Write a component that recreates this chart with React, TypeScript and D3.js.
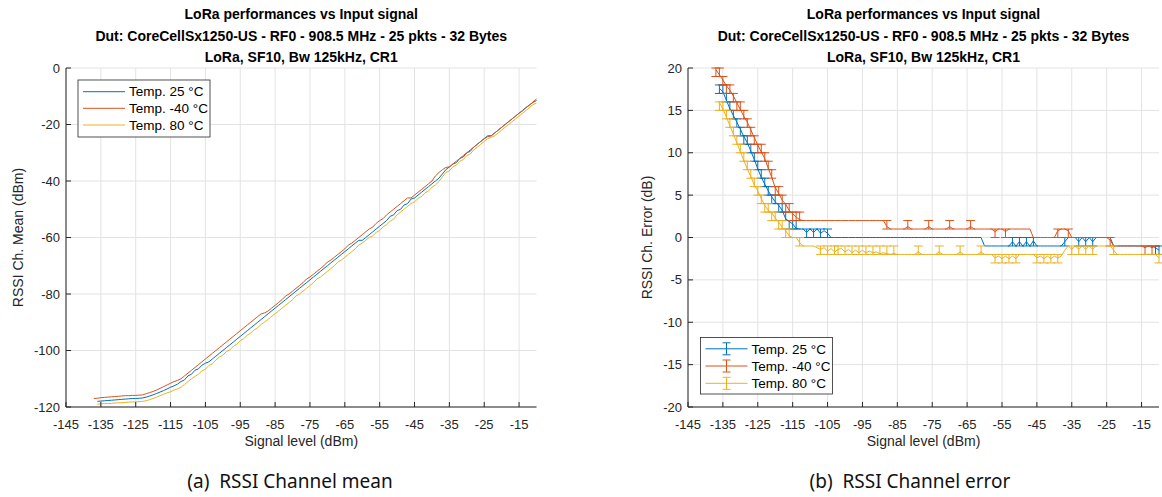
import React from 'react';
import * as d3 from 'd3';

// ---------------- DATA ----------------
const signal = [
  -137, -136, -135, -134, -133, -132, -131, -130, -129, -128, -127, -126, -125, -124, -123, -122, -121, -120, -119, -118,
  -117, -116, -115, -114, -113, -112, -111, -110, -109, -108, -107, -106, -105, -104, -103, -102, -101, -100, -99, -98,
  -97, -96, -95, -94, -93, -92, -91, -90, -89, -88, -87, -86, -85, -84, -83, -82, -81, -80, -79, -78,
  -77, -76, -75, -74, -73, -72, -71, -70, -69, -68, -67, -66, -65, -64, -63, -62, -61, -60, -59, -58,
  -57, -56, -55, -54, -53, -52, -51, -50, -49, -48, -47, -46, -45, -44, -43, -42, -41, -40, -39, -38,
  -37, -36, -35, -34, -33, -32, -31, -30, -29, -28, -27, -26, -25, -24, -23, -22, -21, -20, -19, -18,
  -17, -16, -15, -14, -13, -12, -11, -10,
];

// RSSI channel mean (dBm)
const mean25 = [
  null,
  -118.0, -117.9, -117.8, -117.7, -117.6, -117.5, -117.4, -117.3, -117.2, -117.1, -117.0, -117.0, -116.9, -116.8, -116.5, -116.1,
  -115.7, -115.2, -114.7, -114.2, -113.6, -113.0, -112.5, -111.9, -111.0, -110.4, -109.0, -108.4, -107.0, -106.5, -105.2, -104.5,
  -104, -103, -102, -101, -100, -99, -98, -97, -96, -95, -94, -93, -92, -91, -90, -89, -88, -87, -86, -85, -84, -83,
  -82, -81, -80, -79, -78, -77, -76, -75, -74, -73, -72, -71, -70, -69, -68, -67, -66, -65, -64, -63, -62, -61,
  -61, -60, -59, -58, -57, -56, -55, -54,
  -52.5, -52, -50.5, -50, -48.5, -48, -46.4,
  -46, -45, -44, -43, -42, -41, -40, -39,
  -37.5,
  -36, -35, -34,
  -33.5, -32, -31.5, -30, -29.5,
  -28, -27, -26, -25, -24,
  -24, -23, -22, -21, -20, -19, -18, -17, -16, -15, -14, -13,
  -12.2, -11.5,
];

const mean40 = [
  -117.0, -116.9, -116.7, -116.6, -116.5, -116.4, -116.3, -116.2, -116.1, -116.0, -116.0, -115.9, -115.9, -115.8, -115.7, -115.3,
  -114.9, -114.5, -114.0, -113.4, -112.8, -112.2, -111.6, -111.0, -110.6,
  -110, -109, -108, -107, -106, -105, -104, -103, -102, -101, -100, -99, -98, -97, -96, -95, -94, -93, -92, -91, -90, -89, -88, -87,
  -86.7, -86, -85, -84, -83, -82, -80.7, -80, -79, -78, -77, -76, -74.7, -74, -73, -72, -71, -70, -68.7, -68, -67, -66, -65, -64, -62.7,
  -62, -61, -60, -59, -58, -57,
  -56.3, -55, -54, -53.3,
  -52, -51, -50, -49, -48, -47, -46,
  -46, -45, -44, -43, -42, -41, -40,
  -38.2, -37, -36, -35.2,
  -35, -34, -33, -32, -31, -30, -29, -28, -27, -26, -25,
  -24.3,
  -24, -23, -22, -21, -20, -19, -18, -17, -16,
  -15.2, -14, -13.2, -12, -11,
];

const mean80 = [
  null,
  -119.0, -118.9, -118.8, -118.8, -118.7, -118.6, -118.5, -118.5, -118.4, -118.3, -118.2, -118.2, -118.1, -118.0, -117.8, -117.4,
  -117.0, -116.5, -116.0, -115.5, -115.0, -114.6, -114.0, -113.6, -113.0, -112.0, -111.0, -110.0,
  -109.2, -108.4, -107.2, -106.6, -105.3, -104.7, -103.4, -102.3, -101.7, -100.4, -99.8, -98.5, -97.8, -96.5, -95.8, -94.6,
  -93.8, -92.7, -91.9, -90.8, -89.9, -89.0, -87.9,
  -87, -86, -85, -84, -83, -82,
  -80.7, -80, -79, -78, -77, -76, -74.7, -74, -73, -72, -71, -70, -68.7, -68, -67, -66, -65, -64, -62.7,
  -62, -61, -60,
  -59.4, -58.2, -57.5, -56.2, -55.5, -54.2, -53.5,
  -52, -51, -50, -49, -48,
  -47.4, -46.2, -45.5, -44.2, -43.5, -42.2, -41.4, -40.2,
  -38.5, -37, -36.4, -35, -34.4, -33, -32.4, -31, -30.4,
  -29, -28, -27, -26, -25,
  -24.5,
  -24, -23, -22, -21, -20, -19, -18, -17, -16, -15, -14, -13,
  -12.4,
];

// RSSI channel error (dB) - mean
const err25 = [
  null,
  17.6, 17.2, 16.2, 15.2, 14.4, 13.6, 12.8, 11.9, 11.2, 10.2, 9.2, 8.1, 7.1, 6.3, 5.5, 4.8, 4.2, 3.8, 3.2, 2.2, 1.9, 1.6, 1.1,
  1, 1, 0.6, 1, 0.6, 1, 0.5, 0.8, 0.5,
  0, 0, 0, 0, 0, 0, 0, 0, 0, 0, 0, 0, 0, 0, 0, 0, 0, 0, 0, 0, 0, 0,
  0, 0, 0, 0, 0, 0, 0, 0, 0, 0, 0, 0, 0, 0, 0, 0, 0, 0, 0, 0, 0, 0,
  -1, -1, -1, -1, -1, -1, -1, -1,
  -0.5, -1, -0.5, -1, -0.5, -1, -0.4,
  -1, -1, -1, -1, -1, -1, -1, -1,
  -0.5,
  0, 0, 0,
  -0.5, 0, -0.5, 0, -0.5,
  0, 0, 0, 0, 0,
  -1, -1, -1, -1, -1, -1, -1, -1, -1, -1, -1, -1,
  -1.2, -1.5,
];

const err40 = [
  19.8, 19.2, 18.6, 17.9, 17.4, 16.7, 15.9, 15.1, 14.3, 13.6, 12.7, 11.8, 10.9, 10.1, 9.3, 8.2, 7.1, 5.9, 5.2, 4.4, 3.9, 3.2,
  2.8, 2.4, 2.1,
  2, 2, 2, 2, 2, 2, 2, 2, 2, 2, 2, 2, 2, 2, 2, 2, 2, 2, 2, 2, 2, 2, 2, 2,
  1.3, 1, 1, 1, 1, 1, 1.3, 1, 1, 1, 1, 1, 1.3, 1, 1, 1, 1, 1, 1.3, 1, 1, 1, 1, 1, 1.3,
  1, 1, 1, 1, 1, 1,
  0.7, 1, 1, 0.7,
  1, 1, 1, 1, 1, 1, 1,
  0, 0, 0, 0, 0, 0, 0,
  0.8, 1, 1, 0.8,
  0, 0, 0, 0, 0, 0, 0, 0, 0, 0, 0,
  -0.3,
  -1, -1, -1, -1, -1, -1, -1, -1, -1,
  -1.2, -1, -1.2, -1, -1,
];

const err80 = [
  null,
  15.9, 15.2, 14.2, 13.2, 12.2, 11.2, 10.1, 9.1, 8.1, 7.2, 6.2, 5.5, 4.6, 3.8, 3.2, 2.9, 2.3, 1.8, 1.2, 0.8, 0.2, 0, 0, -0.6,
  -1, -1, -1, -1,
  -1.2, -1.4, -1.2, -1.6, -1.3, -1.7, -1.4, -1.3, -1.7, -1.4, -1.8, -1.5, -1.8, -1.5, -1.8, -1.6, -1.8, -1.7, -1.9, -1.8,
  -1.9, -2, -1.9,
  -2, -2, -2, -2, -2, -2,
  -1.7, -2, -2, -2, -2, -2, -1.7, -2, -2, -2, -2, -2, -1.7, -2, -2, -2, -2, -2, -1.7,
  -2, -2, -2,
  -2.4, -2.2, -2.5, -2.2, -2.5, -2.2, -2.5,
  -2, -2, -2, -2, -2,
  -2.4, -2.2, -2.5, -2.2, -2.5, -2.2, -2.4, -2.2,
  -1.5, -1, -1.4, -1, -1.4, -1, -1.4, -1, -1.4,
  -1, -1, -1, -1, -1,
  -1.5,
  -2, -2, -2, -2, -2, -2, -2, -2, -2, -2, -2, -2,
  -2.4,
];

// error bars: [signal, min, max]
const bars25 = [
  [-136, 17, 18], [-135, 17, 18], [-134, 16, 17], [-133, 15, 16], [-132, 14, 15], [-131, 13, 14], [-130, 12, 13],
  [-129, 11, 12], [-128, 11, 12], [-127, 10, 11], [-126, 9, 10], [-125, 8, 9], [-124, 7, 8], [-123, 6, 7], [-122, 5, 6],
  [-121, 4, 5], [-120, 4, 5], [-119, 3, 4], [-118, 3, 4], [-117, 2, 3], [-116, 1, 2], [-115, 1, 2], [-114, 1, 2],
  [-111, 0, 1], [-109, 0, 1], [-107, 0, 1], [-105, 0, 1], [-52, -1, 0], [-50, -1, 0], [-48, -1, 0], [-46, -1, 0],
  [-37, -1, 0], [-33, -1, 0], [-31, -1, 0], [-29, -1, 0], [-11, -2, -1], [-10, -2, -1],
];

const bars40 = [
  [-137, 19, 20], [-136, 19, 20], [-135, 18, 19], [-134, 17, 18], [-133, 17, 18], [-132, 16, 17], [-131, 15, 16],
  [-130, 15, 16], [-129, 14, 15], [-128, 13, 14], [-127, 12, 13], [-126, 11, 12], [-125, 10, 11], [-124, 10, 11],
  [-123, 9, 10], [-122, 8, 9], [-121, 7, 8], [-120, 5, 6], [-119, 5, 6], [-118, 4, 5], [-117, 3, 4], [-116, 3, 4],
  [-115, 2, 3], [-114, 2, 3], [-113, 2, 3],
  [-88, 1, 2], [-82, 1, 2], [-76, 1, 2], [-70, 1, 2], [-64, 1, 2], [-57, 0, 1], [-54, 0, 1], [-39, 0, 1], [-36, 0, 1],
  [-24, -1, 0], [-14, -2, -1], [-12, -2, -1],
];

const bars80 = [
  [-136, 15, 16], [-135, 15, 16], [-134, 14, 15], [-133, 13, 14], [-132, 12, 13], [-131, 11, 12], [-130, 10, 11],
  [-129, 9, 10], [-128, 8, 9], [-127, 7, 8], [-126, 6, 7], [-125, 5, 6], [-124, 4, 5], [-123, 3, 4], [-122, 3, 4],
  [-121, 2, 3], [-120, 2, 3], [-119, 1, 2], [-118, 1, 2], [-117, 0, 1], [-116, 0, 1], [-113, -1, 0],
  [-107, -2, -1], [-105, -2, -1], [-103, -2, -1], [-102, -2, -1], [-100, -2, -1], [-98, -2, -1], [-96, -2, -1],
  [-94, -2, -1], [-92, -2, -1], [-90, -2, -1], [-88, -2, -1], [-86, -2, -1], [-79, -2, -1], [-73, -2, -1],
  [-67, -2, -1], [-61, -2, -1], [-57, -3, -2], [-55, -3, -2], [-53, -3, -2], [-51, -3, -2], [-45, -3, -2],
  [-43, -3, -2], [-41, -3, -2], [-39, -3, -2], [-35, -2, -1], [-33, -2, -1], [-31, -2, -1], [-29, -2, -1],
  [-23, -2, -1], [-10, -3, -2],
];

const xTicks = [-145, -135, -125, -115, -105, -95, -85, -75, -65, -55, -45, -35, -25, -15];
const yTicksMean = [-120, -100, -80, -60, -40, -20, 0];
const yTicksErr = [-20, -15, -10, -5, 0, 5, 10, 15, 20];
const xDomain = [-145, -10];
const meanDomain = [-120, 0];
const errDomain = [-20, 20];

const titleLines = [
  'LoRa performances vs Input signal',
  'Dut: CoreCellSx1250-US - RF0 - 908.5 MHz - 25 pkts - 32 Bytes',
  'LoRa, SF10, Bw 125kHz, CR1',
];
const legendLabels = ['Temp. 25 °C', 'Temp. -40 °C', 'Temp. 80 °C'];
const seriesColors = ['#0072BD', '#D95319', '#EDB120'];
const xLabel = 'Signal level (dBm)';
const yLabelMean = 'RSSI Ch. Mean (dBm)';
const yLabelErr = 'RSSI Ch. Error (dB)';
const captions = ['(a)\u00A0\u00A0RSSI Channel mean', '(b)\u00A0\u00A0RSSI Channel error'];

// ---------------- DRAWING ----------------
const FONT = '"Liberation Sans", Arial, Helvetica, sans-serif';
const AXIS = '#262626';
const GRID = '#e3e3e3';
const TOP = 68;
const BOTTOM = 407;

type PanelProps = {
  left: number;
  right: number;
  yDomain: number[];
  yTicks: number[];
  yLabel: string;
  yLabelX: number;
  series: (number | null)[][];
  bars?: number[][][];
  legend: { x: number; y: number; w: number; h: number; rows: number[]; withBars: boolean };
};

function Panel({ left, right, yDomain, yTicks, yLabel, yLabelX, series, bars, legend }: PanelProps) {
  const x = d3.scaleLinear().domain(xDomain).range([left, right]);
  const y = d3.scaleLinear().domain(yDomain).range([BOTTOM, TOP]);
  const cx = (left + right) / 2;
  const line = d3
    .line<number>()
    .defined((d) => d !== null && d !== undefined)
    .x((_, i) => x(signal[i]))
    .y((d) => y(d as number));
  const cap = 4.5;
  return (
    <g>
      {/* grid */}
      {xTicks.map((t) => (
        <line key={'gx' + t} x1={x(t)} x2={x(t)} y1={TOP} y2={BOTTOM} stroke={GRID} strokeWidth={1} />
      ))}
      {yTicks.map((t) => (
        <line key={'gy' + t} x1={left} x2={right} y1={y(t)} y2={y(t)} stroke={GRID} strokeWidth={1} />
      ))}
      {/* series */}
      {series.map((s, si) => (
        <g key={'s' + si}>
          <path d={line(s as number[]) || ''} fill="none" stroke={seriesColors[si]} strokeWidth={1} />
          {bars &&
            bars[si].map(([sx, lo, hi], bi) => (
              <g key={bi} stroke={seriesColors[si]} strokeWidth={1}>
                <line x1={x(sx)} x2={x(sx)} y1={y(lo)} y2={y(hi)} />
                <line x1={x(sx) - cap} x2={x(sx) + cap} y1={y(lo)} y2={y(lo)} />
                <line x1={x(sx) - cap} x2={x(sx) + cap} y1={y(hi)} y2={y(hi)} />
              </g>
            ))}
        </g>
      ))}
      {/* axes */}
      <line x1={left} x2={right} y1={BOTTOM} y2={BOTTOM} stroke={AXIS} strokeWidth={1} />
      <line x1={left} x2={left} y1={TOP} y2={BOTTOM} stroke={AXIS} strokeWidth={1} />
      {xTicks.map((t) => (
        <g key={'tx' + t}>
          <line x1={x(t)} x2={x(t)} y1={BOTTOM} y2={BOTTOM - 5} stroke={AXIS} />
          <text x={x(t)} y={429} textAnchor="middle" fontSize={13} fill={AXIS} fontFamily={FONT}>
            {t}
          </text>
        </g>
      ))}
      {yTicks.map((t) => (
        <g key={'ty' + t}>
          <line x1={left} x2={left + 5} y1={y(t)} y2={y(t)} stroke={AXIS} />
          <text x={left - 6} y={y(t) + 4.5} textAnchor="end" fontSize={13} fill={AXIS} fontFamily={FONT}>
            {t}
          </text>
        </g>
      ))}
      {/* labels */}
      <text x={cx} y={446} textAnchor="middle" fontSize={14} fill={AXIS} fontFamily={FONT}>
        {xLabel}
      </text>
      <text
        transform={`translate(${yLabelX},${(TOP + BOTTOM) / 2}) rotate(-90)`}
        textAnchor="middle"
        fontSize={14}
        fill={AXIS}
        fontFamily={FONT}
      >
        {yLabel}
      </text>
      {titleLines.map((t, i) => (
        <text key={'tt' + i} x={cx} y={19 + i * 21.5} textAnchor="middle" fontSize={14} fontWeight="bold" fill="#000" fontFamily={FONT}>
          {t}
        </text>
      ))}
      {/* legend */}
      <rect x={legend.x} y={legend.y} width={legend.w} height={legend.h} fill="#fff" stroke={AXIS} strokeWidth={0.8} />
      {legendLabels.map((lab, i) => {
        const ry = legend.rows[i];
        const lx0 = legend.x + 5;
        const lx1 = legend.x + 47;
        const mid = (lx0 + lx1) / 2;
        return (
          <g key={'lg' + i}>
            <line x1={lx0} x2={lx1} y1={ry} y2={ry} stroke={seriesColors[i]} strokeWidth={1} />
            {legend.withBars && (
              <g stroke={seriesColors[i]} strokeWidth={1}>
                <line x1={mid} x2={mid} y1={ry - 6} y2={ry + 6} />
                <line x1={mid - 4} x2={mid + 4} y1={ry - 6} y2={ry - 6} />
                <line x1={mid - 4} x2={mid + 4} y1={ry + 6} y2={ry + 6} />
              </g>
            )}
            <text x={lx1 + 4} y={ry + 4.7} fontSize={13.5} fill="#000" fontFamily={FONT}>
              {lab}
            </text>
          </g>
        );
      })}
    </g>
  );
}

export default function App() {
  return (
    <svg
      width={1162}
      height={497}
      viewBox="0 0 1162 497"
      style={{ position: 'absolute', left: 0, top: 0, background: '#fff' }}
    >
      <rect x={0} y={0} width={1162} height={497} fill="#fff" />
      <Panel
        left={66}
        right={536.5}
        yDomain={meanDomain}
        yTicks={yTicksMean}
        yLabel={yLabelMean}
        yLabelX={23}
        series={[mean25, mean40, mean80]}
        legend={{ x: 78, y: 80, w: 132, h: 57, rows: [91.7, 108.3, 125], withBars: false }}
      />
      <Panel
        left={688}
        right={1159}
        yDomain={errDomain}
        yTicks={yTicksErr}
        yLabel={yLabelErr}
        yLabelX={652}
        series={[err25, err40, err80]}
        bars={[bars25, bars40, bars80]}
        legend={{ x: 700.5, y: 337.5, w: 132, h: 56.5, rows: [348.8, 366, 383.3], withBars: true }}
      />
      <text x={290} y={488} textAnchor="middle" fontSize={19} fill="#111" fontFamily='"Noto Sans", sans-serif'>
        {captions[0]}
      </text>
      <text x={910} y={488} textAnchor="middle" fontSize={19} fill="#111" fontFamily='"Noto Sans", sans-serif'>
        {captions[1]}
      </text>
    </svg>
  );
}
